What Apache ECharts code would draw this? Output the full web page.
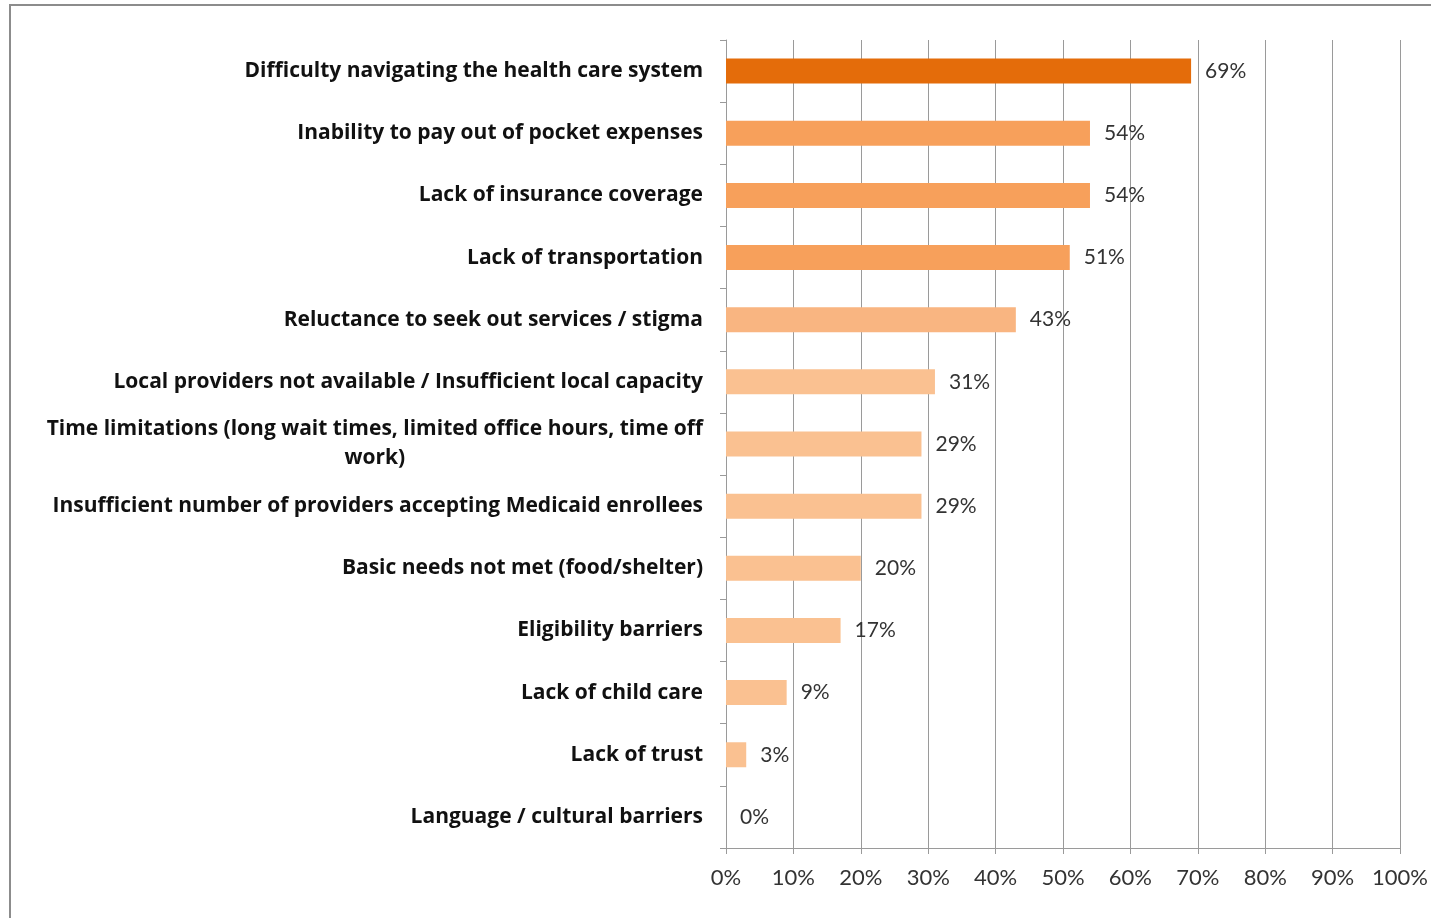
<!DOCTYPE html>
<html>
<head>
<meta charset="utf-8">
<script src="https://cdn.jsdelivr.net/npm/echarts@6/dist/echarts.min.js"></script>
<style>
  html, body { margin: 0; padding: 0; background: #fff; }
  #chart { width: 1431px; height: 918px; }
</style>
</head>
<body>
<div id="chart"></div>
<script>
// Barriers to care, share of respondents (%)
const categories = [
  'Difficulty navigating the health care system',
  'Inability to pay out of pocket expenses',
  'Lack of insurance coverage',
  'Lack of transportation',
  'Reluctance to seek out services / stigma',
  'Local providers not available / Insufficient local capacity',
  'Time limitations (long wait times, limited office hours, time off\nwork)',
  'Insufficient number of providers accepting Medicaid enrollees',
  'Basic needs not met (food/shelter)',
  'Eligibility barriers',
  'Lack of child care',
  'Lack of trust',
  'Language / cultural barriers'
];
const values = [69, 54, 54, 51, 43, 31, 29, 29, 20, 17, 9, 3, 0];
const barColors = ['#E46C0A', '#F7A05B', '#F7A05B', '#F7A05B', '#F9B581',
  '#FAC191', '#FAC191', '#FAC191', '#FAC191', '#FAC191', '#FAC191', '#FAC191', '#FAC191'];
const xTicks = [0, 10, 20, 30, 40, 50, 60, 70, 80, 90, 100];

const chart = echarts.init(document.getElementById('chart'));
const catFont = '"Open Sans", "Noto Sans", sans-serif';
const numFont = 'Lato, "Open Sans", sans-serif';

chart.setOption({
  animation: false,
  backgroundColor: '#ffffff',
  graphic: [{
    type: 'rect',
    shape: { x: 10, y: 5, width: 1440, height: 940 },
    style: { fill: 'none', stroke: '#8c8c8c', lineWidth: 2 },
    silent: true,
    z: -10
  }],
  grid: { left: 726, right: 30, top: 40, bottom: 70, containLabel: false },
  xAxis: {
    type: 'value',
    min: xTicks[0],
    max: xTicks[xTicks.length - 1],
    interval: 10,
    axisLine: { show: true, lineStyle: { color: '#9a9a9a', width: 1 } },
    axisTick: { show: true, length: 6, lineStyle: { color: '#9a9a9a' } },
    splitLine: { show: true, lineStyle: { color: '#9a9a9a', width: 1 } },
    axisLabel: {
      formatter: v => v + '%',
      color: '#333333',
      fontFamily: numFont,
      fontSize: 22,
      margin: 19
    }
  },
  yAxis: {
    type: 'category',
    data: categories,
    inverse: true,
    axisLine: { show: true, lineStyle: { color: '#9a9a9a', width: 1 } },
    axisTick: { show: true, length: 6, lineStyle: { color: '#9a9a9a' } },
    splitLine: { show: false },
    axisLabel: {
      margin: 23,
      color: '#111111',
      fontFamily: catFont,
      fontWeight: 'bold',
      fontSize: 21,
      lineHeight: 29,
      formatter: v => v.split('\n').map(s => '{c|' + s + '}').join('\n'),
      rich: {
        c: {
          align: 'center',
          color: '#111111',
          fontFamily: catFont,
          fontWeight: 'bold',
          fontSize: 21,
          lineHeight: 29
        }
      }
    }
  },
  series: [{
    type: 'bar',
    data: values.map((v, i) => ({ value: v, itemStyle: { color: barColors[i] } })),
    barWidth: 25,
    label: {
      show: true,
      position: 'right',
      distance: 14,
      formatter: p => p.value + '%',
      color: '#333333',
      fontFamily: numFont,
      fontSize: 21
    }
  }]
});
</script>
</body>
</html>
